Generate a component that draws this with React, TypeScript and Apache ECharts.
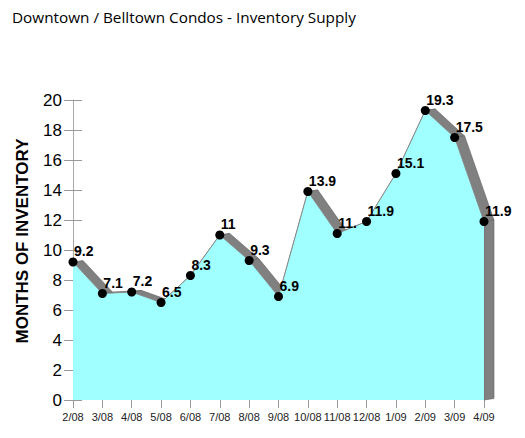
import React, { useEffect, useRef } from "react";
import * as echarts from "echarts";

// Month labels along the x axis
const categories = [
  "2/08", "3/08", "4/08", "5/08", "6/08", "7/08", "8/08", "9/08",
  "10/08", "11/08", "12/08", "1/09", "2/09", "3/09", "4/09",
];

// Months of inventory per month
const inventory = [9.2, 7.1, 7.2, 6.5, 8.3, 11, 9.3, 6.9, 13.9, 11.1, 11.9, 15.1, 19.3, 17.5, 11.9];

// Point labels as printed beside each marker
const pointLabels = ["9.2", "7.1", "7.2", "6.5", "8.3", "11", "9.3", "6.9", "13.9", "11.", "11.9", "15.1", "19.3", "17.5", "11.9"];

// Y axis range
const yMin = 0;
const yMax = 20;
const yStep = 2;

// Depth offset of the extruded band, in pixels
const DEPTH_X = 10;
const DEPTH_Y = -1.5;

const FONT = "'Liberation Sans', Arial, sans-serif";

export default function App() {
  const ref = useRef<HTMLDivElement>(null);

  useEffect(() => {
    if (!ref.current) return;
    const chart = echarts.init(ref.current, undefined, { renderer: "svg" });
    const n = inventory.length;

    chart.setOption({
      animation: false,
      backgroundColor: "#ffffff",
      title: {
        text: "Downtown / Belltown Condos - Inventory Supply",
        left: 7,
        top: 4,
        textStyle: {
          fontFamily: "'Open Sans', sans-serif",
          fontSize: 15.3,
          fontWeight: "normal",
          color: "#000",
        },
      },
      graphic: [
        {
          type: "text",
          x: 22,
          y: 241,
          rotation: Math.PI / 2,
          style: {
            text: "MONTHS OF INVENTORY",
            font: `bold 17px ${FONT}`,
            fill: "#000",
            align: "center",
            verticalAlign: "middle",
          },
        },
      ],
      grid: { left: 73, right: 41, top: 100, bottom: 38 },
      xAxis: {
        type: "category",
        data: categories,
        boundaryGap: false,
        axisLine: { show: false },
        axisTick: { show: true, length: 8, lineStyle: { color: "#999" } },
        axisLabel: {
          interval: 0,
          margin: 11,
          fontFamily: FONT,
          fontSize: 11,
          color: "#222",
        },
      },
      yAxis: [
        {
          type: "value",
          min: yMin,
          max: yMax,
          interval: yStep,
          axisLine: { show: true, lineStyle: { color: "#aaa" } },
          axisTick: { show: true, length: 9, lineStyle: { color: "#999" } },
          axisLabel: {
            margin: 11,
            fontFamily: FONT,
            fontSize: 17,
            color: "#000",
          },
          splitLine: { show: false },
        },
        {
          type: "value",
          position: "left",
          min: yMin,
          max: yMax,
          interval: yStep,
          axisLine: { show: false },
          axisTick: { show: true, inside: true, length: 9, lineStyle: { color: "#999" } },
          axisLabel: { show: false },
          splitLine: { show: false },
        },
      ],
      series: [
        {
          // extruded depth band behind the area
          type: "custom",
          coordinateSystem: "cartesian2d",
          data: inventory.map((v, i) => [i, v]),
          encode: { x: 0, y: 1 },
          silent: true,
          renderItem: (params: any, api: any) => {
            const i = params.dataIndex;
            const p0 = api.coord([api.value(0), api.value(1)]);
            const p1 = i < n - 1 ? api.coord([i + 1, inventory[i + 1]]) : api.coord([i, 0]);
            return {
              type: "polygon",
              shape: {
                points: [
                  p0,
                  p1,
                  [p1[0] + DEPTH_X, p1[1] + DEPTH_Y],
                  [p0[0] + DEPTH_X, p0[1] + DEPTH_Y],
                ],
              },
              style: { fill: "#808080", stroke: "#606060", lineWidth: 0.6 },
            };
          },
        },
        {
          type: "line",
          data: inventory,
          symbol: "circle",
          symbolSize: 9,
          itemStyle: { color: "#000" },
          lineStyle: { color: "#8a8a8a", width: 1 },
          areaStyle: { color: "#a0ffff", opacity: 1 },
          label: {
            show: true,
            position: [5.5, -6.5],
            align: "left",
            verticalAlign: "middle",
            fontFamily: FONT,
            fontSize: 14,
            fontWeight: "bold",
            color: "#000",
            formatter: (p: any) => pointLabels[p.dataIndex],
          },
        },
      ],
    });

    return () => chart.dispose();
  }, []);

  return (
    <div
      ref={ref}
      style={{ position: "fixed", left: 0, top: 0, width: 525, height: 438 }}
    />
  );
}
